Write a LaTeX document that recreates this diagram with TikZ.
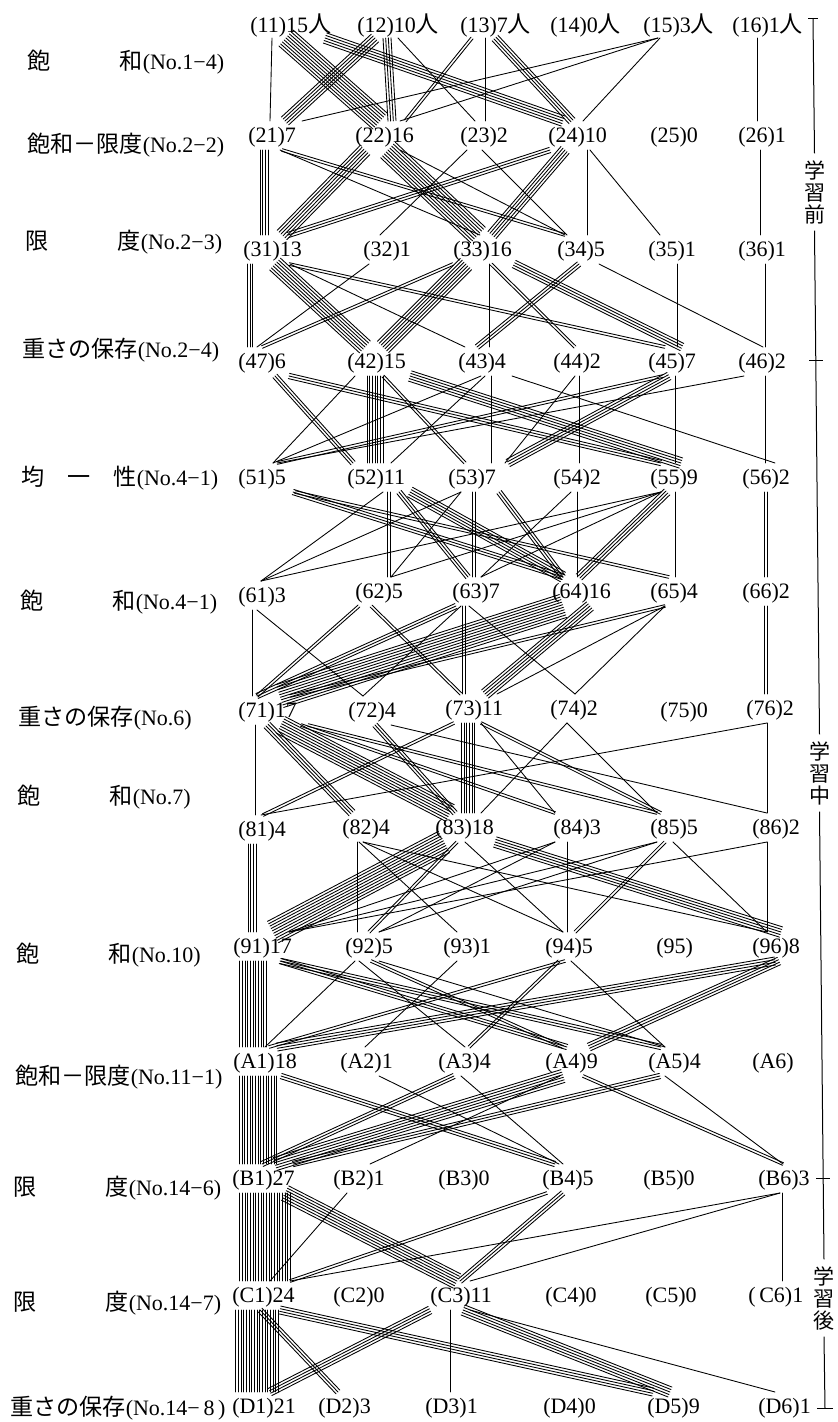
\documentclass[tikz,border=0pt]{standalone}
\usepackage{fontspec}
\setmainfont{Liberation Serif}
\newfontfamily\jp[Scale=1.05]{Noto Sans CJK JP}
\usetikzlibrary{calc}
\newcommand\labfont{\fontsize{16.5}{18}\selectfont}
\tikzset{
  lab/.style={anchor=west, inner sep=0pt, font=\labfont},
  side/.style={anchor=west, inner sep=0pt, font=\labfont},
  link/.style={line width=0.65pt, line cap=round},
  brk/.style={line width=0.75pt},
  vt/.style={font=\jp\fontsize{15}{16.5}\selectfont, align=center, inner xsep=0pt, inner ysep=5pt}
}
\newcommand\bnd[5]{%
  \coordinate (bS) at ($(#1.west)+(#2,13)$);%
  \coordinate (bT) at ($(#3.west)+(#4,-16)$);%
  \foreach \q in {1,...,#5}{%
    \pgfmathsetmacro\bo{(\q-(#5+1)/2)*2.0}%
    \draw[link] ($(bS)!\bo pt!90:(bT)$) -- ($(bT)!\bo pt!-90:(bS)$);%
  }}
\begin{document}
\begin{tikzpicture}[x=0.75pt,y=-0.75pt]
\useasboundingbox (0,0) rectangle (838,1422);
% ---------- left labels
\node[side] (s1) at (27,62) {{\jp 飽　　　和}(No.1−4)};
\node[side] (s2) at (27,145) {{\jp 飽和－限度}(No.2−2)};
\node[side] (s3) at (25,242) {{\jp 限　　　度}(No.2−3)};
\node[side] (s4) at (22,350) {{\jp 重さの保存}(No.2−4)};
\node[side] (s5) at (21,478) {{\jp 均　一　性}(No.4−1)};
\node[side] (s6) at (20,602) {{\jp 飽　　　和}(No.4−1)};
\node[side] (s7) at (18,718) {{\jp 重さの保存}(No.6)};
\node[side] (s8) at (17,797) {{\jp 飽　　　和}(No.7)};
\node[side] (s9) at (16,955) {{\jp 飽　　　和}(No.10)};
\node[side] (s10) at (15,1077) {{\jp 飽和－限度}(No.11−1)};
\node[side] (s11) at (13,1188) {{\jp 限　　　度}(No.14−6)};
\node[side] (s12) at (13,1303) {{\jp 限　　　度}(No.14−7)};
\node[side] (s13) at (10,1408) {{\jp 重さの保存}(No.14−\,8\,)};
% ---------- row nodes
\node[lab] (p11) at (250,25) {(11)15{\jp 人}};
\node[lab] (p12) at (357,25) {(12)10{\jp 人}};
\node[lab] (p13) at (460,25) {(13)7{\jp 人}};
\node[lab] (p14) at (550,25) {(14)0{\jp 人}};
\node[lab] (p15) at (643,25) {(15)3{\jp 人}};
\node[lab] (p16) at (732,25) {(16)1{\jp 人}};
\node[lab] (p21) at (248,137) {(21)7};
\node[lab] (p22) at (355,137) {(22)16};
\node[lab] (p23) at (460,137) {(23)2};
\node[lab] (p24) at (548,137) {(24)10};
\node[lab] (p25) at (650,137) {(25)0};
\node[lab] (p26) at (738,137) {(26)1};
\node[lab] (p31) at (243,251) {(31)13};
\node[lab] (p32) at (363,251) {(32)1};
\node[lab] (p33) at (453,251) {(33)16};
\node[lab] (p34) at (557,251) {(34)5};
\node[lab] (p35) at (648,251) {(35)1};
\node[lab] (p36) at (738,251) {(36)1};
\node[lab] (p47) at (238,363) {(47)6};
\node[lab] (p42) at (347,363) {(42)15};
\node[lab] (p43) at (458,363) {(43)4};
\node[lab] (p44) at (553,363) {(44)2};
\node[lab] (p45) at (648,363) {(45)7};
\node[lab] (p46) at (738,363) {(46)2};
\node[lab] (p51) at (238,479) {(51)5};
\node[lab] (p52) at (347,479) {(52)11};
\node[lab] (p53) at (448,479) {(53)7};
\node[lab] (p54) at (553,479) {(54)2};
\node[lab] (p55) at (650,479) {(55)9};
\node[lab] (p56) at (742,479) {(56)2};
\node[lab] (p61) at (238,597) {(61)3};
\node[lab] (p62) at (355,593) {(62)5};
\node[lab] (p63) at (452,593) {(63)7};
\node[lab] (p64) at (552,593) {(64)16};
\node[lab] (p65) at (650,593) {(65)4};
\node[lab] (p66) at (742,593) {(66)2};
\node[lab] (p71) at (238,712) {(71)17};
\node[lab] (p72) at (348,712) {(72)4};
\node[lab] (p73) at (445,710) {(73)11};
\node[lab] (p74) at (550,710) {(74)2};
\node[lab] (p75) at (660,712) {(75)0};
\node[lab] (p76) at (746,710) {(76)2};
\node[lab] (p81) at (238,831) {(81)4};
\node[lab] (p82) at (342,829) {(82)4};
\node[lab] (p83) at (435,829) {(83)18};
\node[lab] (p84) at (553,829) {(84)3};
\node[lab] (p85) at (650,829) {(85)5};
\node[lab] (p86) at (752,829) {(86)2};
\node[lab] (p91) at (233,948) {(91)17};
\node[lab] (p92) at (345,948) {(92)5};
\node[lab] (p93) at (443,948) {(93)1};
\node[lab] (p94) at (545,948) {(94)5};
\node[lab] (p95) at (656,948) {(95)};
\node[lab] (p96) at (752,948) {(96)8};
\node[lab] (pA1) at (233,1063) {(A1)18};
\node[lab] (pA2) at (340,1063) {(A2)1};
\node[lab] (pA3) at (438,1063) {(A3)4};
\node[lab] (pA4) at (545,1063) {(A4)9};
\node[lab] (pA5) at (648,1063) {(A5)4};
\node[lab] (pA6) at (752,1063) {(A6)};
\node[lab] (pB1) at (232,1180) {(B1)27};
\node[lab] (pB2) at (333,1180) {(B2)1};
\node[lab] (pB3) at (438,1180) {(B3)0};
\node[lab] (pB4) at (542,1180) {(B4)5};
\node[lab] (pB5) at (643,1180) {(B5)0};
\node[lab] (pB6) at (758,1180) {(B6)3};
\node[lab] (pC1) at (232,1297) {(C1)24};
\node[lab] (pC2) at (333,1297) {(C2)0};
\node[lab] (pC3) at (430,1297) {(C3)11};
\node[lab] (pC4) at (545,1297) {(C4)0};
\node[lab] (pC5) at (645,1297) {(C5)0};
\node[lab] (pC6) at (748,1297) {(\,C6)1};
\node[lab] (pD1) at (232,1408) {(D1)21};
\node[lab] (pD2) at (318,1408) {(D2)3};
\node[lab] (pD3) at (425,1408) {(D3)1};
\node[lab] (pD4) at (543,1408) {(D4)0};
\node[lab] (pD5) at (647,1408) {(D5)9};
\node[lab] (pD6) at (758,1408) {(D6)1};
% ---------- bracket
\coordinate (b0) at (813,18);
\coordinate (b1) at (825,1408);
\node[vt] (k1) at (814.5,192) {学\\習\\前};
\node[vt] (k2) at (819.5,773) {学\\習\\中};
\node[vt] (k3) at (824,1298) {学\\習\\後};
\draw[brk] (808,18) -- (818,18);
\draw[brk] (b0) -- (k1.north);
\draw[brk] (k1.south) -- (k2.north);
\draw[brk] (k2.south) -- (k3.north);
\draw[brk] (k3.south) -- (b1);
\draw[brk] (809,360) -- (823,360);
\draw[brk] (816,1178) -- (830,1178);
\draw[brk] (817,1408) -- (833,1408);
% ---------- 1 -> 2
\bnd{p11}{22}{p21}{22}{1}
\bnd{p11}{36}{p22}{25}{9}
\bnd{p11}{75}{p24}{15}{5}
\bnd{p12}{18}{p21}{37}{5}
\bnd{p12}{30}{p22}{37}{4}
\bnd{p12}{41}{p23}{15}{1}
\bnd{p13}{12}{p22}{50}{2}
\bnd{p13}{25}{p23}{25}{1}
\bnd{p13}{35}{p24}{24}{4}
\bnd{p15}{15}{p21}{54}{1}
\bnd{p15}{15}{p22}{45}{1}
\bnd{p15}{17}{p24}{35}{1}
\bnd{p16}{25}{p26}{19}{1}
% ---------- 2 -> 3
\bnd{p21}{16}{p31}{21}{4}
\bnd{p21}{32}{p33}{27}{1}
\bnd{p21}{34}{p34}{8}{2}
\bnd{p22}{10}{p31}{39}{6}
\bnd{p22}{33}{p33}{25}{9}
\bnd{p22}{45}{p34}{8}{1}
\bnd{p23}{7}{p32}{17}{1}
\bnd{p23}{22}{p34}{10}{1}
\bnd{p24}{2}{p31}{45}{3}
\bnd{p24}{17}{p33}{39}{5}
\bnd{p24}{39}{p34}{30}{1}
\bnd{p24}{42}{p35}{12}{1}
\bnd{p26}{22}{p36}{22}{1}
% ---------- 3 -> 4
\bnd{p31}{7}{p47}{12}{3}
\bnd{p31}{32}{p42}{18}{7}
\bnd{p31}{46}{p45}{17}{2}
\bnd{p31}{47}{p43}{7}{1}
\bnd{p32}{6}{p47}{19}{1}
\bnd{p33}{13}{p42}{36}{7}
\bnd{p33}{0}{p47}{24}{2}
\bnd{p33}{36}{p43}{31}{1}
\bnd{p33}{38}{p44}{22}{2}
\bnd{p33}{61}{p45}{34}{4}
\bnd{p34}{22}{p43}{19}{3}
\bnd{p34}{42}{p46}{25}{1}
\bnd{p35}{29}{p45}{29}{1}
\bnd{p36}{27}{p46}{27}{1}
% ---------- 4 -> 5
\bnd{p47}{37}{p52}{6}{3}
\bnd{p47}{51}{p55}{11}{3}
\bnd{p42}{8}{p51}{35}{1}
\bnd{p42}{28}{p52}{28}{7}
\bnd{p42}{36}{p53}{17}{2}
\bnd{p42}{63}{p55}{31}{5}
\bnd{p43}{23}{p51}{35}{1}
\bnd{p43}{27}{p52}{44}{1}
\bnd{p43}{33}{p53}{43}{1}
\bnd{p43}{54}{p56}{33}{1}
\bnd{p44}{22}{p53}{57}{1}
\bnd{p44}{26}{p54}{26}{1}
\bnd{p45}{15}{p51}{39}{2}
\bnd{p45}{21}{p53}{60}{4}
\bnd{p45}{27}{p55}{25}{1}
\bnd{p46}{6}{p51}{39}{1}
\bnd{p46}{27}{p56}{23}{1}
% ---------- 5 -> 6
\bnd{p51}{55}{p64}{11}{3}
\bnd{p51}{57}{p65}{19}{2}
\bnd{p52}{36}{p61}{23}{1}
\bnd{p52}{42}{p62}{34}{2}
\bnd{p52}{52}{p63}{16}{3}
\bnd{p52}{63}{p64}{11}{5}
\bnd{p53}{13}{p61}{23}{1}
\bnd{p53}{13}{p62}{36}{1}
\bnd{p53}{26}{p63}{22}{2}
\bnd{p53}{51}{p64}{11}{3}
\bnd{p54}{18}{p63}{29}{1}
\bnd{p54}{24}{p64}{25}{1}
\bnd{p55}{11}{p61}{23}{1}
\bnd{p55}{11}{p62}{36}{1}
\bnd{p55}{11}{p63}{29}{1}
\bnd{p55}{17}{p64}{27}{4}
\bnd{p55}{25}{p65}{25}{1}
\bnd{p56}{24}{p66}{24}{2}
% ---------- 6 -> 7
\bnd{p61}{14}{p71}{14}{1}
\bnd{p61}{19}{p72}{15}{1}
\bnd{p62}{4}{p71}{19}{2}
\bnd{p62}{16}{p73}{16}{2}
\bnd{p63}{4}{p71}{19}{3}
\bnd{p63}{9}{p72}{15}{1}
\bnd{p63}{12}{p73}{19}{2}
\bnd{p63}{17}{p74}{25}{1}
\bnd{p64}{11}{p71}{42}{10}
\bnd{p64}{38}{p73}{40}{5}
\bnd{p65}{15}{p71}{52}{2}
\bnd{p65}{15}{p73}{52}{1}
\bnd{p65}{15}{p74}{25}{1}
\bnd{p66}{24}{p76}{20}{2}
% ---------- 7 -> 8
\bnd{p71}{17}{p81}{17}{1}
\bnd{p71}{29}{p82}{10}{4}
\bnd{p71}{43}{p83}{15}{8}
\bnd{p71}{63}{p84}{2}{2}
\bnd{p71}{70}{p85}{7}{2}
\bnd{p72}{27}{p83}{20}{3}
\bnd{p72}{43}{p86}{15}{1}
\bnd{p73}{9}{p81}{25}{2}
\bnd{p73}{23}{p83}{33}{6}
\bnd{p73}{36}{p84}{2}{1}
\bnd{p73}{36}{p85}{11}{2}
\bnd{p74}{17}{p83}{46}{1}
\bnd{p74}{17}{p85}{7}{1}
\bnd{p76}{21}{p81}{23}{1}
\bnd{p76}{21}{p86}{15}{1}
% ---------- 8 -> 9
\bnd{p81}{14}{p91}{19}{4}
\bnd{p82}{15}{p92}{12}{1}
\bnd{p82}{17}{p93}{14}{1}
\bnd{p82}{21}{p94}{18}{1}
\bnd{p82}{21}{p96}{15}{1}
\bnd{p83}{9}{p91}{40}{10}
\bnd{p83}{22}{p92}{24}{2}
\bnd{p83}{30}{p94}{18}{1}
\bnd{p83}{60}{p96}{29}{5}
\bnd{p84}{2}{p91}{56}{1}
\bnd{p84}{2}{p92}{34}{1}
\bnd{p84}{14}{p94}{22}{1}
\bnd{p85}{7}{p91}{56}{1}
\bnd{p85}{7}{p92}{34}{1}
\bnd{p85}{15}{p94}{30}{2}
\bnd{p85}{23}{p96}{15}{1}
\bnd{p86}{15}{p91}{56}{1}
\bnd{p86}{15}{p96}{15}{1}
% ---------- 9 -> A
\bnd{p91}{20}{pA1}{20}{11}
\bnd{p91}{47}{pA4}{22}{3}
\bnd{p91}{48}{pA5}{13}{3}
\bnd{p92}{10}{pA1}{32}{1}
\bnd{p92}{14}{pA3}{27}{1}
\bnd{p92}{26}{pA4}{18}{2}
\bnd{p92}{34}{pA5}{17}{1}
\bnd{p93}{14}{pA2}{25}{1}
\bnd{p94}{20}{pA1}{36}{2}
\bnd{p94}{14}{pA3}{31}{2}
\bnd{p94}{26}{pA5}{17}{1}
\bnd{p96}{23}{pA1}{44}{4}
\bnd{p96}{27}{pA4}{44}{4}
% ---------- A -> B
\bnd{pA1}{25}{pB1}{26}{15}
\bnd{pA1}{48}{pB4}{13}{3}
\bnd{pA2}{39}{pB4}{17}{1}
\bnd{pA3}{16}{pB1}{30}{3}
\bnd{pA3}{23}{pB4}{21}{1}
\bnd{pA4}{18}{pB1}{43}{6}
\bnd{pA4}{15}{pB2}{37}{1}
\bnd{pA4}{38}{pB6}{25}{2}
\bnd{pA5}{12}{pB1}{61}{3}
\bnd{pA5}{17}{pB6}{25}{1}
% ---------- B -> C
\bnd{pB1}{33}{pC1}{33}{20}
\bnd{pB1}{53}{pC3}{27}{7}
\bnd{pB2}{14}{pC1}{38}{1}
\bnd{pB4}{5}{pC1}{58}{2}
\bnd{pB4}{21}{pC3}{30}{3}
\bnd{pB6}{22}{pC1}{58}{1}
\bnd{pB6}{22}{pC3}{40}{1}
\bnd{pB6}{24}{pC6}{34}{1}
% ---------- C -> D
\bnd{pC1}{25}{pD1}{25}{17}
\bnd{pC1}{28}{pD2}{20}{3}
\bnd{pC1}{48}{pD5}{6}{4}
\bnd{pC3}{0}{pD1}{38}{4}
\bnd{pC3}{20}{pD3}{25}{1}
\bnd{pC3}{33}{pD5}{23}{5}
\bnd{pC3}{40}{pD6}{17}{1}
\end{tikzpicture}
\end{document}
